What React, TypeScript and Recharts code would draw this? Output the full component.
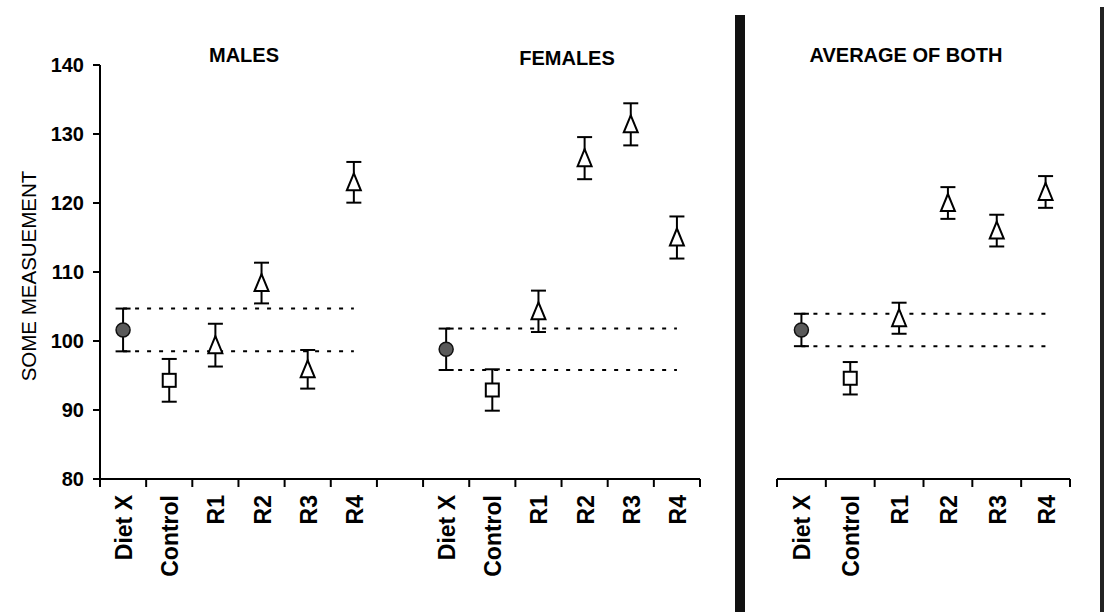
import { ComposedChart, Line, XAxis, YAxis, ErrorBar, ReferenceLine } from "recharts"

const FONT = '"Liberation Sans", Arial, sans-serif'

const categories = ['Diet X', 'Control', 'R1', 'R2', 'R3', 'R4']
const markerKinds = ['circle', 'square', 'tri', 'tri', 'tri', 'tri']
const yTicks = [80, 90, 100, 110, 120, 130, 140]

const maleMeans = [101.6, 94.3, 99.4, 108.4, 95.9, 123.0]
const maleErrs = [3.1, 3.1, 3.1, 2.95, 2.8, 2.95]
const femaleMeans = [98.8, 92.9, 104.3, 126.5, 131.4, 115.0]
const femaleErrs = [3.0, 3.0, 3.0, 3.05, 3.05, 3.05]
const bothMeans = [101.6, 94.6, 103.3, 120.0, 116.0, 121.6]
const bothErrs = [2.35, 2.35, 2.25, 2.3, 2.3, 2.3]

// left panel: males at 0..6, gap, females at 7..13
const leftData = [
  ...maleMeans.map((m, i) => ({ x: i + 0.5, mean: m, err: maleErrs[i], kind: markerKinds[i] })),
  ...femaleMeans.map((m, i) => ({ x: i + 7.5, mean: m, err: femaleErrs[i], kind: markerKinds[i] })),
]
const rightData = bothMeans.map((m, i) => ({ x: i + 0.5, mean: m, err: bothErrs[i], kind: markerKinds[i] }))

const leftTicks = [
  ...Array.from({ length: 14 }, (_, i) => i),
  ...[0, 1, 2, 3, 4, 5].map(i => i + 0.5),
  ...[0, 1, 2, 3, 4, 5].map(i => i + 7.5),
]
const rightTicks = [
  ...Array.from({ length: 7 }, (_, i) => i),
  ...[0, 1, 2, 3, 4, 5].map(i => i + 0.5),
]

const labelFor = (v: number) => {
  if (v < 6) return categories[Math.floor(v)]
  if (v >= 7) return categories[Math.floor(v) - 7]
  return ''
}

const XTick = (props: any) => {
  const { x, y, payload } = props
  const v = payload.value
  if (Number.isInteger(v)) {
    return <line x1={x} x2={x} y1={y} y2={y + 8} stroke="#000" strokeWidth={2} />
  }
  return (
    <text transform={`translate(${x + 9},${y + 16}) rotate(-90)`} textAnchor="end"
      fontSize={23} fontWeight="bold" fill="#000" fontFamily={FONT}>
      {labelFor(v)}
    </text>
  )
}

const Marker = (props: any) => {
  const { cx, cy, payload, index } = props
  if (cx == null || cy == null) return <g key={`m${index}`} />
  if (payload.kind === 'circle') {
    return <circle key={`m${index}`} cx={cx} cy={cy} r={7} fill="#5a5a5a" stroke="#111" strokeWidth={1.5} />
  }
  if (payload.kind === 'square') {
    return <rect key={`m${index}`} x={cx - 6.5} y={cy - 6.5} width={13} height={13} fill="#fff" stroke="#000" strokeWidth={2} />
  }
  const pts = `${cx},${cy - 9} ${cx - 7},${cy + 8} ${cx + 7},${cy + 8}`
  return <polygon key={`m${index}`} points={pts} fill="#fff" stroke="#000" strokeWidth={2} />
}

const dashed = { stroke: '#000', strokeWidth: 2, strokeDasharray: '4 8' }

export default function App() {
  return (
    <div style={{ position: 'absolute', left: 0, top: 0, width: 1105, height: 612, background: '#fff', fontFamily: FONT }}>
      <div style={{ position: 'absolute', left: 0, top: 0 }}>
        <ComposedChart width={720} height={612} data={leftData} margin={{ top: 65, right: 20, bottom: 33, left: 40 }}>
          <XAxis dataKey="x" type="number" domain={[0, 13]} ticks={leftTicks} interval={0}
            tick={<XTick />} tickLine={false} tickSize={0} tickMargin={0} height={100}
            axisLine={{ stroke: '#000', strokeWidth: 2 }} allowDataOverflow />
          <YAxis type="number" domain={[80, 140]} ticks={yTicks} interval={0} width={60}
            tick={{ fill: '#000', fontSize: 20, fontWeight: 'bold', fontFamily: FONT }}
            tickLine={{ stroke: '#000', strokeWidth: 2 }} tickSize={7} tickMargin={9}
            axisLine={{ stroke: '#000', strokeWidth: 2 }} />
          <ReferenceLine segment={[{ x: 0.5, y: maleMeans[0] + maleErrs[0] }, { x: 5.5, y: maleMeans[0] + maleErrs[0] }]} {...dashed} />
          <ReferenceLine segment={[{ x: 0.5, y: maleMeans[0] - maleErrs[0] }, { x: 5.5, y: maleMeans[0] - maleErrs[0] }]} {...dashed} />
          <ReferenceLine segment={[{ x: 7.5, y: femaleMeans[0] + femaleErrs[0] }, { x: 12.5, y: femaleMeans[0] + femaleErrs[0] }]} {...dashed} />
          <ReferenceLine segment={[{ x: 7.5, y: femaleMeans[0] - femaleErrs[0] }, { x: 12.5, y: femaleMeans[0] - femaleErrs[0] }]} {...dashed} />
          <Line dataKey="mean" stroke="none" dot={Marker} activeDot={false} isAnimationActive={false}>
            <ErrorBar dataKey="err" direction="y" width={7.5} strokeWidth={2} stroke="#000" />
          </Line>
        </ComposedChart>
      </div>
      <div style={{ position: 'absolute', left: 757, top: 0 }}>
        <ComposedChart width={333} height={612} data={rightData} margin={{ top: 65, right: 20, bottom: 33, left: 20 }}>
          <XAxis dataKey="x" type="number" domain={[0, 6]} ticks={rightTicks} interval={0}
            tick={<XTick />} tickLine={false} tickSize={0} tickMargin={0} height={100}
            axisLine={{ stroke: '#000', strokeWidth: 2 }} allowDataOverflow />
          <YAxis type="number" domain={[80, 140]} hide />
          <ReferenceLine segment={[{ x: 0.5, y: bothMeans[0] + bothErrs[0] }, { x: 5.5, y: bothMeans[0] + bothErrs[0] }]} {...dashed} />
          <ReferenceLine segment={[{ x: 0.5, y: bothMeans[0] - bothErrs[0] }, { x: 5.5, y: bothMeans[0] - bothErrs[0] }]} {...dashed} />
          <Line dataKey="mean" stroke="none" dot={Marker} activeDot={false} isAnimationActive={false}>
            <ErrorBar dataKey="err" direction="y" width={7.5} strokeWidth={2} stroke="#000" />
          </Line>
        </ComposedChart>
      </div>
      <svg width={1105} height={612} style={{ position: 'absolute', left: 0, top: 0, pointerEvents: 'none' }}>
        <text x={244} y={62} textAnchor="middle" fontSize={20} fontWeight="bold" fontFamily={FONT}>MALES</text>
        <text x={567} y={65} textAnchor="middle" fontSize={20} fontWeight="bold" fontFamily={FONT}>FEMALES</text>
        <text x={906} y={62} textAnchor="middle" fontSize={20} fontWeight="bold" fontFamily={FONT}>AVERAGE OF BOTH</text>
        <text transform="translate(36,276) rotate(-90)" textAnchor="middle" fontSize={20.5} fontFamily={FONT}>SOME MEASUEMENT</text>
        <rect x={735} y={15} width={10} height={597} fill="#111" />
        <rect x={1100} y={7} width={4} height={605} fill="#222" />
      </svg>
    </div>
  )
}
